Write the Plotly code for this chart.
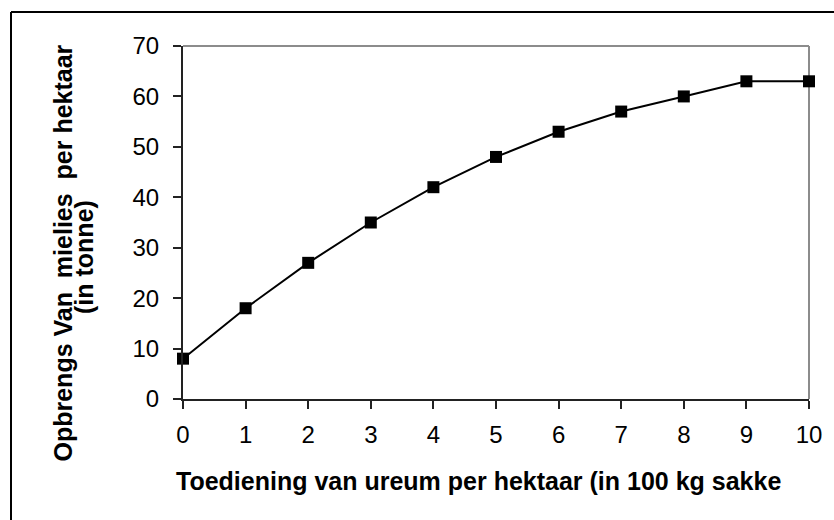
import plotly.graph_objects as go

# Data
dosage = [0, 1, 2, 3, 4, 5, 6, 7, 8, 9, 10]
yield_t = [8, 18, 27, 35, 42, 48, 53, 57, 60, 63, 63]
y_ticks = [0, 10, 20, 30, 40, 50, 60, 70]
x_ticks = [0, 1, 2, 3, 4, 5, 6, 7, 8, 9, 10]

x_title = "Toediening van ureum per hektaar (in 100 kg sakke"
y_title_1 = "Opbrengs Van  mielies  per hektaar"
y_title_2 = "(in tonne)"

W, H = 834, 520
L, R, T, B = 183, 25, 46, 121
pw, ph = W - L - R, H - T - B


def px(xpix):
    return (xpix - L) / pw


def py(ypix):
    return (H - B - ypix) / ph


fig = go.Figure()
fig.add_trace(go.Scatter(
    x=dosage, y=yield_t, mode="lines+markers",
    line=dict(color="black", width=2),
    marker=dict(symbol="square", size=12, color="black"),
    cliponaxis=False, showlegend=False,
))

font_main = "Liberation Sans, Arial, sans-serif"

fig.update_layout(
    width=W, height=H,
    margin=dict(l=L, r=R, t=T, b=B, pad=0),
    paper_bgcolor="white", plot_bgcolor="white",
    font=dict(family=font_main, color="black"),
    xaxis=dict(
        range=[0, 10], tickvals=x_ticks, ticktext=[str(v) for v in x_ticks],
        showgrid=False, zeroline=False, showline=True, linecolor="#222",
        linewidth=2, ticks="outside", ticklen=8, tickwidth=1.5, tickcolor="#222",
        tickfont=dict(size=24, family=font_main, color="black"),
        ticklabelstandoff=5, fixedrange=True,
    ),
    yaxis=dict(
        range=[0, 70], tickvals=y_ticks, ticktext=[str(v) for v in y_ticks],
        showgrid=False, zeroline=False, showline=True, linecolor="#222",
        linewidth=2, ticks="outside", ticklen=8, tickwidth=1.5, tickcolor="#222",
        tickfont=dict(size=24, family=font_main, color="black"),
        ticklabelstandoff=9, fixedrange=True,
    ),
    shapes=[
        # gray top and right border of plot area
        dict(type="line", xref="paper", yref="paper", x0=0, x1=1, y0=1, y1=1,
             line=dict(color="#8c8c8c", width=2), layer="below"),
        dict(type="line", xref="paper", yref="paper", x0=1, x1=1, y0=0, y1=1,
             line=dict(color="#8c8c8c", width=2), layer="below"),
        # outer chart border: left and top edges visible in the frame
        dict(type="line", xref="paper", yref="paper",
             x0=px(11), x1=px(11), y0=py(H + 10), y1=py(12),
             line=dict(color="black", width=2)),
        dict(type="line", xref="paper", yref="paper",
             x0=px(11), x1=px(W + 10), y0=py(12), y1=py(12),
             line=dict(color="black", width=2)),
    ],
    annotations=[
        dict(text="<b>" + x_title + "</b>", xref="paper", yref="paper",
             x=px(478), y=py(481), xanchor="center", yanchor="middle",
             showarrow=False, font=dict(size=25, family=font_main, color="black")),
        dict(text="<b>" + y_title_1 + "</b>", xref="paper", yref="paper",
             x=px(62.5), y=py(253), xanchor="center", yanchor="middle",
             textangle=-90, showarrow=False,
             font=dict(size=25, family=font_main, color="black")),
        dict(text="<b>" + y_title_2 + "</b>", xref="paper", yref="paper",
             x=px(84), y=py(257), xanchor="center", yanchor="middle",
             textangle=-90, showarrow=False,
             font=dict(size=25, family=font_main, color="black")),
    ],
)

fig.write_html(
    "out.html",
    config={"displayModeBar": False},
    post_script="document.body.style.margin='0';document.body.style.overflow='hidden';",
)
